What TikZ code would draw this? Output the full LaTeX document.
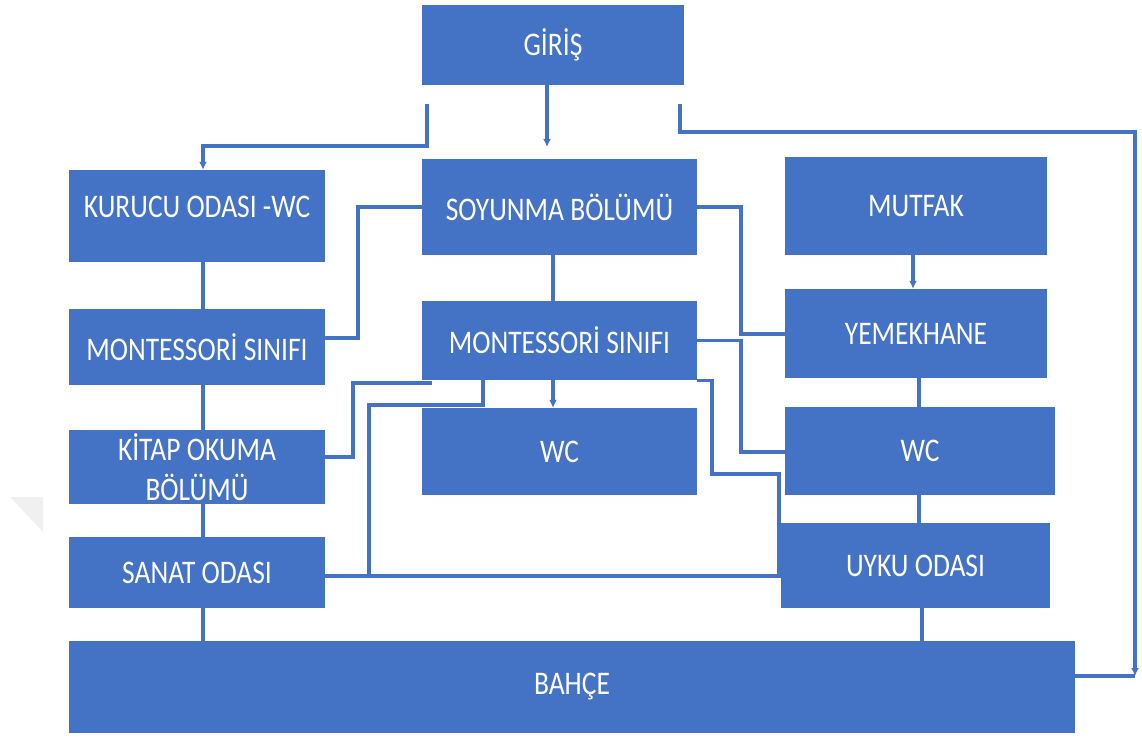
\documentclass[tikz,border=0pt]{standalone}
\usepackage{fontspec}
\setmainfont{Carlito}
\usepackage{graphicx}
\usetikzlibrary{arrows.meta}
\definecolor{boxblue}{RGB}{68,114,196}
\definecolor{lineblue}{RGB}{68,114,196}
\newcommand{\lbl}[1]{\scalebox{1}[1.2]{#1}}
\tikzset{
  roombox/.style={fill=boxblue,draw=none,text=white,inner sep=0pt,align=center,
    font=\fontsize{27.5}{40}\selectfont},
  conn/.style={draw=lineblue,line width=3.3pt},
  tip/.style={-{Latex[length=8pt,width=8pt]}}
}
\begin{document}
\begin{tikzpicture}[x=1pt,y=-1pt]
\useasboundingbox (0,0) rectangle (1142,738);
% faint triangle
\fill[gray!12] (10,497) -- (43,497) -- (43,532) -- cycle;
% boxes
\node[roombox,minimum width=262pt,minimum height=80pt] (giris) at (553,45) {\lbl{GİRİŞ}};
\node[roombox,minimum width=256pt,minimum height=92pt] (kurucu) at (197,216) {\raisebox{19pt}{\lbl{KURUCU ODASI -WC}}};
\node[roombox,minimum width=275pt,minimum height=96pt] (soy) at (559.5,207) {\lbl{SOYUNMA BÖLÜMÜ}};
\node[roombox,minimum width=262pt,minimum height=98pt] (mutfak) at (916,206) {\lbl{MUTFAK}};
\node[roombox,minimum width=256pt,minimum height=76pt] (montL) at (197,347) {\lbl{MONTESSORİ SINIFI}};
\node[roombox,minimum width=275pt,minimum height=79pt] (montM) at (559.5,340.5) {\lbl{MONTESSORİ SINIFI}};
\node[roombox,minimum width=262pt,minimum height=89pt] (yemek) at (916,333.5) {\lbl{YEMEKHANE}};
\node[roombox,minimum width=256pt,minimum height=74pt] (kitap) at (197,467) {\lbl{KİTAP OKUMA}\\\lbl{BÖLÜMÜ}};
\node[roombox,minimum width=275pt,minimum height=87pt] (wcM) at (559.5,451.5) {\lbl{WC}};
\node[roombox,minimum width=270pt,minimum height=88pt] (wcR) at (920,451) {\lbl{WC}};
\node[roombox,minimum width=256pt,minimum height=71pt] (sanat) at (197,572.5) {\lbl{SANAT ODASI}};
\node[roombox,minimum width=269pt,minimum height=85pt] (uyku) at (915.5,565.5) {\lbl{UYKU ODASI}};
\node[roombox,minimum width=1006pt,minimum height=92pt] (bahce) at (572,687) {\lbl{BAHÇE}};
% coordinates
\coordinate (xl) at (203,0);
\coordinate (xm) at (553,0);
\coordinate (g1) at (427,104);
\coordinate (k1) at (203,146);
\coordinate (g2) at (547,147);
\coordinate (g3) at (680,104);
\coordinate (r1) at (1135,132);
\coordinate (r2) at (1135,676);
\coordinate (a1) at (358,338);
\coordinate (b1) at (741,334);
\coordinate (c0) at (432,383);
\coordinate (c1) at (353,457);
\coordinate (d0) at (483,405);
\coordinate (d1) at (369,576);
\coordinate (e1) at (741,452);
\coordinate (f1) at (712,474);
\coordinate (f2) at (779,576);
\coordinate (xmu) at (913,0);
\coordinate (xr) at (919,0);
\coordinate (xu) at (922,0);
% connectors from GIRIS
\draw[conn,tip] (g1) |- (k1) -- (kurucu.north -| k1);
\draw[conn,tip] (giris.south -| g2) -- (g2);
\draw[conn,tip] (g3) |- (r1) -- (r2);
\draw[conn] (bahce.east |- r2) -- (r2);
% left column
\draw[conn] (kurucu.south -| xl) -- (montL.north -| xl);
\draw[conn] (montL.south -| xl) -- (kitap.north -| xl);
\draw[conn] (kitap.south -| xl) -- (sanat.north -| xl);
\draw[conn] (sanat.south -| xl) -- (bahce.north -| xl);
% middle column
\draw[conn] (soy.west) -| (a1) -- (montL.east |- a1);
\draw[conn] (soy.south -| xm) -- (montM.north -| xm);
\draw[conn] (soy.east) -| (b1) -- (yemek.west |- b1);
\draw[conn] (c0) -| (c1) -- (kitap.east |- c1);
\draw[conn] (montM.south -| d0) -- (d0) -| (d1);
\draw[conn] (sanat.east |- d1) -- (uyku.west |- d1);
\draw[conn] (montM.east) -| (e1) -- (wcR.west |- e1);
\draw[conn] (montM.south east) -| (f1) -| (f2);
\draw[conn,tip] (wcM.north -| xm) ++(0,-30) -- (wcM.north -| xm);
% right column
\draw[conn,tip] (mutfak.south -| xmu) -- (yemek.north -| xmu);
\draw[conn] (yemek.south -| xr) -- (wcR.north -| xr);
\draw[conn] (wcR.south -| xr) -- (uyku.north -| xr);
\draw[conn] (uyku.south -| xu) -- (bahce.north -| xu);
\end{tikzpicture}
\end{document}
